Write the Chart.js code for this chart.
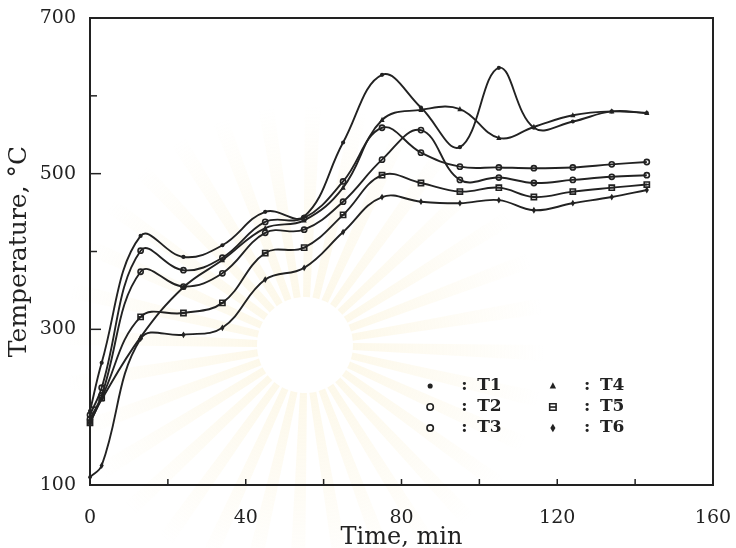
<!DOCTYPE html>
<html>
<head>
<meta charset="utf-8">
<script src="https://cdn.jsdelivr.net/npm/chart.js@4.4.1/dist/chart.umd.min.js"></script>
<style>
  html, body { margin: 0; background: #fff; }
  #c { display: block; }
</style>
</head>
<body>
<canvas id="c" width="736" height="548"></canvas>
<script>
// time of each reading, min
const times = [0, 3, 13, 24, 34, 45, 55, 65, 75, 85, 95, 105, 114, 124, 134, 143];

// temperatures, deg C
const t1 = [195, 257, 420, 393, 408, 451, 445, 540, 627, 585, 534, 636, 559, 567, 580, 578];
const t2 = [190, 225, 401, 376, 392, 438, 443, 490, 559, 527, 509, 508, 507, 508, 512, 515];
const t3 = [185, 215, 374, 355, 372, 424, 428, 464, 518, 556, 492, 495, 488, 492, 496, 498];
const t4 = [180, 210, 290, 354, 389, 430, 440, 482, 569, 582, 583, 546, 560, 575, 580, 578];
const t5 = [180, 212, 316, 321, 334, 398, 405, 447, 498, 488, 477, 482, 470, 477, 482, 486];
const t6 = [110, 125, 288, 293, 302, 364, 379, 425, 470, 464, 462, 466, 453, 462, 470, 479];

const seriesNames = ['T1', 'T2', 'T3', 'T4', 'T5', 'T6'];
const seriesData = [t1, t2, t3, t4, t5, t6];
const markers = ['circle', 'ring', 'ring', 'triangle', 'box', 'diamond'];

const INK = '#222';
const FONT = '"DejaVu Serif", "Liberation Serif", serif';

function drawMarker(ctx, kind, x, y, r) {
  ctx.beginPath();
  if (kind === 'triangle') {
    ctx.moveTo(x, y - r * 1.2);
    ctx.lineTo(x + r, y + r * 0.8);
    ctx.lineTo(x - r, y + r * 0.8);
    ctx.closePath();
    ctx.fill();
  } else if (kind === 'diamond') {
    ctx.moveTo(x, y - r * 1.3);
    ctx.lineTo(x + r * 0.8, y);
    ctx.lineTo(x, y + r * 1.3);
    ctx.lineTo(x - r * 0.8, y);
    ctx.closePath();
    ctx.fill();
  } else if (kind === 'ring') {
    ctx.arc(x, y, r, 0, Math.PI * 2);
    ctx.lineWidth = 1.6;
    ctx.stroke();
  } else if (kind === 'box') {
    ctx.rect(x - r, y - r, r * 2, r * 2);
    ctx.lineWidth = 1.6;
    ctx.stroke();
    ctx.beginPath();
    ctx.moveTo(x - r, y); ctx.lineTo(x + r, y);
    ctx.stroke();
  } else {
    ctx.arc(x, y, r * 0.8, 0, Math.PI * 2);
    ctx.fill();
  }
}

// faint sunburst watermark of the scanned page
const watermark = {
  id: 'watermark',
  beforeDraw(chart) {
    const ctx = chart.ctx;
    const cx = 305, cy = 345, r0 = 48, r1 = 240;
    ctx.save();
    const g = ctx.createRadialGradient(cx, cy, r0, cx, cy, r1);
    g.addColorStop(0, 'rgba(245,225,160,0.22)');
    g.addColorStop(1, 'rgba(245,225,160,0)');
    ctx.fillStyle = g;
    for (let k = 0; k < 32; k++) {
      const a0 = (k / 32) * Math.PI * 2, a1 = a0 + Math.PI / 48;
      ctx.beginPath();
      ctx.arc(cx, cy, r1, a0, a1);
      ctx.arc(cx, cy, r0, a1 + 0.04, a0 - 0.04, true);
      ctx.closePath();
      ctx.fill();
    }
    ctx.restore();
  }
};

// box round the plot, inward tick marks, legend inside the plot
const frame = {
  id: 'frame',
  afterDraw(chart) {
    const { ctx, chartArea: a, scales } = chart;
    ctx.save();
    ctx.strokeStyle = INK;
    ctx.fillStyle = INK;
    ctx.lineWidth = 2;
    ctx.strokeRect(a.left, a.top, a.right - a.left, a.bottom - a.top);

    ctx.lineWidth = 1.5;
    scales.x.ticks.forEach(t => {
      const px = scales.x.getPixelForValue(t.value);
      ctx.beginPath();
      ctx.moveTo(px, a.bottom);
      ctx.lineTo(px, a.bottom - 6);
      ctx.stroke();
    });
    scales.y.ticks.forEach(t => {
      const py = scales.y.getPixelForValue(t.value);
      const len = t.label ? 11 : 7;
      ctx.beginPath();
      ctx.moveTo(a.left, py);
      ctx.lineTo(a.left + len, py);
      ctx.stroke();
    });

    // legend
    const w = a.right - a.left, h = a.bottom - a.top;
    ctx.font = 'bold 17px ' + FONT;
    ctx.textBaseline = 'middle';
    seriesNames.forEach((name, i) => {
      const col = Math.floor(i / 3), row = i % 3;
      const sx = a.left + w * (col ? 0.743 : 0.546);
      const sy = a.top + h * (0.788 + row * 0.045);
      drawMarker(ctx, markers[i], sx, sy, 3.2);
      ctx.fillText(':', sx + 31, sy);
      ctx.fillText(name, sx + 47, sy);
    });
    ctx.restore();
  }
};

// markers on the curves
const pointMarks = {
  id: 'pointMarks',
  afterDatasetsDraw(chart) {
    const ctx = chart.ctx;
    ctx.save();
    ctx.strokeStyle = INK;
    ctx.fillStyle = INK;
    chart.data.datasets.forEach((ds, i) => {
      chart.getDatasetMeta(i).data.forEach(pt => {
        drawMarker(ctx, markers[i], pt.x, pt.y, 2.6);
      });
    });
    ctx.restore();
  }
};

new Chart(document.getElementById('c'), {
  type: 'line',
  data: {
    datasets: seriesData.map((vals, i) => ({
      label: seriesNames[i],
      data: times.map((t, j) => ({ x: t, y: vals[j] })),
      borderColor: INK,
      borderWidth: 1.9,
      pointRadius: 0,
      tension: 0.4,
      fill: false
    }))
  },
  options: {
    responsive: false,
    animation: false,
    layout: { padding: { top: 18, right: 23, left: 0, bottom: 0 } },
    plugins: { legend: { display: false }, tooltip: { enabled: false } },
    scales: {
      x: {
        type: 'linear',
        min: 0,
        max: 160,
        grid: { display: false },
        border: { display: false },
        ticks: {
          stepSize: 20,
          padding: 14,
          autoSkip: false,
          maxRotation: 0,
          color: INK,
          font: { family: FONT, size: 19 },
          callback: v => (v % 40 === 0 ? v : '')
        },
        title: {
          display: true,
          text: 'Time, min',
          color: INK,
          font: { family: FONT, size: 24 },
          padding: { top: 0, bottom: -4 }
        },
        afterFit: s => { s.height = 63; s.paddingLeft = 0; s.paddingRight = 0; }
      },
      y: {
        min: 100,
        max: 700,
        grid: { display: false },
        border: { display: false },
        ticks: {
          stepSize: 100,
          padding: 6,
          autoSkip: false,
          color: INK,
          font: { family: FONT, size: 19 },
          callback: v => (v % 200 === 100 ? v : '')
        },
        title: {
          display: true,
          text: 'Temperature, °C',
          color: INK,
          font: { family: FONT, size: 25 },
          padding: { top: 4, bottom: 0 }
        },
        afterFit: s => { s.width = 90; s.paddingTop = 0; s.paddingBottom = 0; }
      }
    }
  },
  plugins: [watermark, pointMarks, frame]
});
</script>
</body>
</html>
